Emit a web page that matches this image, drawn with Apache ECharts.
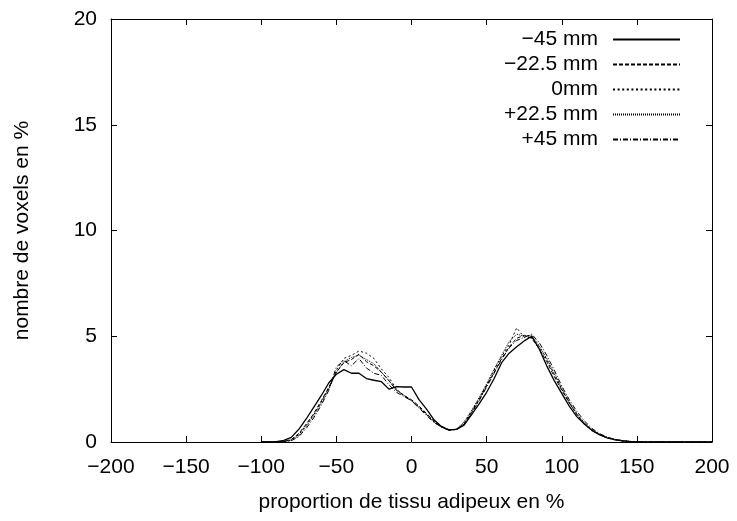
<!DOCTYPE html>
<html>
<head>
<meta charset="utf-8">
<script src="https://cdn.jsdelivr.net/npm/echarts@6/dist/echarts.min.js"></script>
<style>
  html, body { margin: 0; padding: 0; background: #fff; }
  #chart { width: 737px; height: 521px; }
</style>
</head>
<body>
<div id="chart"></div>
<script>
// x positions (proportion de tissu adipeux, %)
const xs = [
  -100, -95, -90, -85, -80, -75, -70, -65, -60, -55, -50, -45, -40, -35, -30, -25, -20, -15, -10, -5,
  0, 5, 10, 15, 20, 25, 30, 35, 40, 45, 50, 55, 60, 65, 70, 75, 80, 85, 90, 95,
  100, 105, 110, 115, 120, 125, 130, 135, 140, 145, 150, 155, 160, 170, 180, 190, 200
]

const seriesNames = ['−45 mm', '−22.5 mm', '0mm', '+22.5 mm', '+45 mm']

const minus45 = [
  0, 0, 0.02, 0.08, 0.22, 0.6, 1.1, 1.65, 2.2, 2.8, 3.2, 3.42, 3.25, 3.25, 3.0, 2.92, 2.85, 2.5, 2.62, 2.6,
  2.6, 2.0, 1.55, 1.05, 0.72, 0.58, 0.6, 0.8, 1.3, 1.8, 2.35, 3.0, 3.75, 4.2, 4.5, 4.78, 5.0, 4.4, 3.6, 2.9,
  2.3, 1.7, 1.2, 0.85, 0.55, 0.35, 0.2, 0.12, 0.06, 0.03, 0.01, 0, 0, 0, 0, 0, 0
]
const minus22 = [
  0, 0, 0, 0.03, 0.12, 0.4, 0.85, 1.35, 1.95, 2.6, 3.3, 3.75, 3.9, 4.15, 3.8, 3.6, 3.3, 2.9, 2.45, 2.2,
  2.0, 1.7, 1.35, 1.0, 0.75, 0.58, 0.6, 0.85, 1.4, 2.0, 2.65, 3.3, 3.95, 4.5, 4.9, 5.05, 4.9, 4.4, 3.8, 3.1,
  2.45, 1.85, 1.3, 0.85, 0.55, 0.35, 0.2, 0.1, 0.05, 0.02, 0.01, 0, 0, 0, 0, 0, 0
]
const zero = [
  0, 0, 0, 0.02, 0.1, 0.35, 0.8, 1.3, 1.9, 2.55, 3.4, 3.95, 4.1, 4.3, 4.2, 3.95, 3.45, 3.05, 2.5, 2.2,
  1.95, 1.65, 1.3, 0.95, 0.72, 0.55, 0.6, 0.9, 1.45, 2.05, 2.7, 3.4, 4.05, 4.6, 5.4, 4.95, 4.95, 4.5, 3.9, 3.2,
  2.5, 1.85, 1.3, 0.9, 0.58, 0.36, 0.2, 0.11, 0.05, 0.02, 0.01, 0, 0, 0, 0, 0, 0
]
const plus22 = [
  0, 0, 0, 0.02, 0.08, 0.3, 0.75, 1.25, 1.85, 2.5, 3.3, 3.8, 4.0, 4.1, 3.9, 3.7, 3.3, 2.9, 2.45, 2.2,
  1.95, 1.65, 1.3, 0.95, 0.7, 0.55, 0.62, 0.95, 1.5, 2.1, 2.75, 3.45, 4.1, 4.75, 5.1, 5.0, 5.05, 4.55, 3.95, 3.25,
  2.55, 1.9, 1.35, 0.9, 0.6, 0.38, 0.22, 0.12, 0.06, 0.03, 0.01, 0, 0, 0, 0, 0, 0
]
const plus45 = [
  0, 0, 0, 0.01, 0.06, 0.25, 0.65, 1.15, 1.75, 2.45, 3.55, 3.85, 3.6, 3.95, 3.5, 3.25, 3.15, 2.7, 2.35, 2.15,
  1.95, 1.6, 1.25, 0.92, 0.7, 0.55, 0.6, 0.85, 1.35, 1.95, 2.6, 3.25, 3.9, 4.45, 4.8, 4.95, 5.1, 4.7, 4.1, 3.4,
  2.65, 2.0, 1.45, 1.0, 0.65, 0.4, 0.24, 0.13, 0.07, 0.03, 0.01, 0, 0, 0, 0, 0, 0
]

const xTicks = { min: -200, max: 200, interval: 50 }
const yTicks = { min: 0, max: 20, interval: 5 }

const allValues = [minus45, minus22, zero, plus22, plus45]
const dashTypes = ['solid', [4, 2], [2, 2.6], [1, 1], [5, 2, 1, 2]]
const legendRows = [29, 54, 79, 104, 129]

const FONT = 'Liberation Sans, Arial, sans-serif'
const chart = echarts.init(document.getElementById('chart'))

const minusFmt = (v) => String(v).replace('-', '−')

const axisCommon = {
  axisLine: { show: true, onZero: false, lineStyle: { color: '#000', width: 1 } },
  axisTick: { show: true, inside: true, length: 6, lineStyle: { color: '#000' } },
  splitLine: { show: false },
}

chart.setOption({
  animation: false,
  backgroundColor: '#fff',
  grid: { left: 111, right: 25, top: 19, bottom: 79 },
  legend: seriesNames.map((name, i) => ({
    data: [name],
    orient: 'horizontal',
    align: 'right',
    right: 56,
    top: legendRows[i],
    itemWidth: 67,
    itemHeight: 22,
    padding: 0,
    selectedMode: false,
    itemStyle: { opacity: 0, borderWidth: 0 },
    textStyle: { fontFamily: FONT, fontSize: 21, color: '#000', padding: [0, 10, 0, 0] },
  })),
  xAxis: [
    {
      type: 'value',
      ...xTicks,
      position: 'bottom',
      name: 'proportion de tissu adipeux en %',
      nameLocation: 'middle',
      nameGap: 50,
      nameTextStyle: { fontFamily: FONT, fontSize: 21, color: '#000' },
      axisLabel: { color: '#000', fontFamily: FONT, fontSize: 21, margin: 15, formatter: minusFmt },
      ...axisCommon,
    },
    {
      type: 'value',
      ...xTicks,
      position: 'top',
      axisLabel: { show: false },
      ...axisCommon,
    },
  ],
  yAxis: [
    {
      type: 'value',
      ...yTicks,
      position: 'left',
      name: 'nombre de voxels en %',
      nameLocation: 'middle',
      nameGap: 78,
      nameTextStyle: { fontFamily: FONT, fontSize: 21, color: '#000' },
      axisLabel: { color: '#000', fontFamily: FONT, fontSize: 21, margin: 14 },
      ...axisCommon,
    },
    {
      type: 'value',
      ...yTicks,
      position: 'right',
      axisLabel: { show: false },
      ...axisCommon,
    },
  ],
  series: seriesNames.map((name, i) => ({
    name,
    type: 'line',
    data: xs.map((x, j) => [x, allValues[i][j]]),
    showSymbol: false,
    symbol: 'none',
    smooth: false,
    color: '#000',
    lineStyle: { color: '#000', width: i === 0 ? 1.3 : 1, type: dashTypes[i] },
  })),
})
</script>
</body>
</html>
